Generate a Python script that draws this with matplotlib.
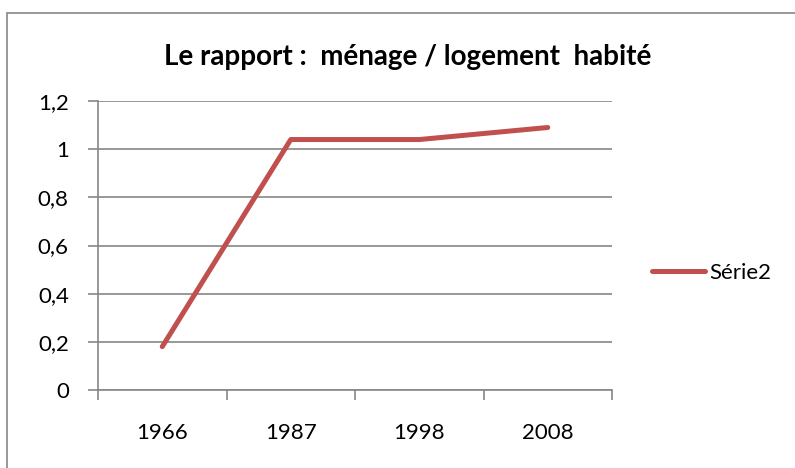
import matplotlib
matplotlib.use("Agg")
import matplotlib.pyplot as plt
from matplotlib.patches import Rectangle

plt.rcParams['font.family'] = ['Lato', 'DejaVu Sans']

# data
annees = ['1966', '1987', '1998', '2008']
rapport = [0.18, 1.04, 1.04, 1.09]
yticks = [0, 0.2, 0.4, 0.6, 0.8, 1.0, 1.2]
ylabels = ['0', '0,2', '0,4', '0,6', '0,8', '1', '1,2']

fig = plt.figure(figsize=(7.95, 4.68), dpi=100)
ax = fig.add_axes([98/795, 1 - 390/468, (612-98)/795, (390-101)/468])

x = list(range(len(annees)))
ax.plot(x, rapport, color='#C0504D', lw=3.6, solid_capstyle='round', label='Série2')

ax.set_xlim(-0.5, len(annees) - 0.5)
ax.set_ylim(0, 1.2)
ax.set_yticks(yticks)
ax.set_yticklabels(ylabels, fontsize=16)
ax.set_xticks([i + 0.5 for i in range(-1, len(annees))])
ax.set_xticklabels([])
ax.set_xticks(x, minor=True)
ax.set_xticklabels(annees, minor=True, fontsize=16)

ax.grid(axis='y', color='#868686', lw=1.2)
ax.set_axisbelow(True)
for s in ['top', 'right']:
    ax.spines[s].set_visible(False)
for s in ['left', 'bottom']:
    ax.spines[s].set_color('#868686')
    ax.spines[s].set_linewidth(1.2)
ax.tick_params(axis='y', length=7, color='#868686', width=1.2, pad=14)
ax.tick_params(axis='x', which='major', length=7, color='#868686', width=1.2)
ax.tick_params(axis='x', which='minor', length=0, pad=24)

fig.text(408/795, 1 - 57/468, 'Le rapport :  ménage / logement  habité',
         ha='center', va='center', fontsize=20, fontweight='bold')

leg = ax.legend(loc='center left', bbox_to_anchor=(652/795, 1 - 273/468),
                bbox_transform=fig.transFigure, frameon=False, fontsize=16,
                handlelength=2.4, handletextpad=0.2, borderpad=0,
                borderaxespad=0)

fig.patches.append(Rectangle((7/795, -0.1), 2, (468-13)/468 + 0.1,
                             transform=fig.transFigure, fill=False,
                             edgecolor='#868686', lw=1.2))

fig.savefig('out.png', dpi=100)
